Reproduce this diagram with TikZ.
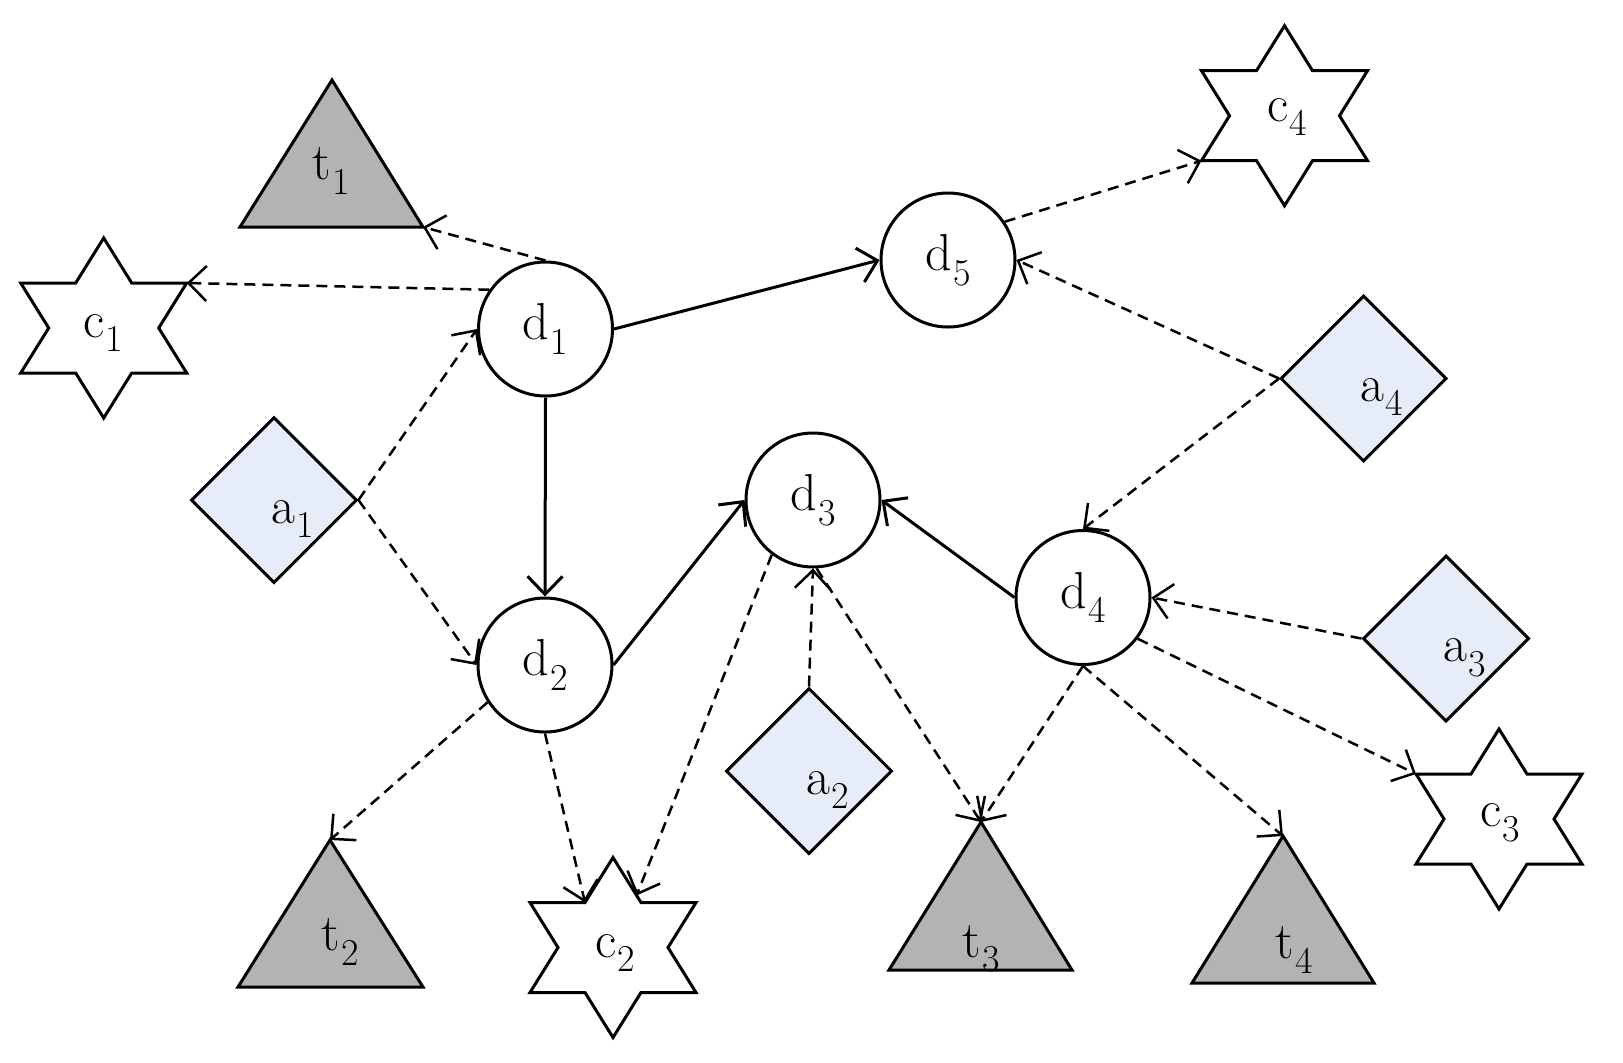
\documentclass[tikz,border=0pt]{standalone}
\usetikzlibrary{arrows.meta,shapes.geometric}
\definecolor{tgray}{RGB}{179,179,179}
\definecolor{dblue}{RGB}{230,237,248}
\newcommand\lblsub[2]{#1\kern0.02em\raisebox{-0.28em}{\fontsize{19}{22}\selectfont #2}}
\newcommand\hexastar[2]{%
  \begin{scope}[shift={(#1)}]
    \draw[shp,fill=white] (0,-90) -- (28,-45) -- (83,-45) -- (55,0) -- (83,45) -- (28,45) -- (0,90) -- (-28,45) -- (-83,45) -- (-55,0) -- (-83,-45) -- (-28,-45) -- cycle;
    \coordinate (#2-ur) at (83,-45);
    \coordinate (#2-ul) at (-83,-45);
    \coordinate (#2-ll) at (-83,45);
    \coordinate (#2-uli) at (-28,-45);
    \coordinate (#2-ure) at (23.5,-52);
  \end{scope}}
\begin{document}
\begin{tikzpicture}[x=0.5pt,y=-0.5pt,
  shp/.style={draw=black,line width=1.5pt,line join=miter},
  dnode/.style={circle,draw=black,line width=1.5pt,minimum size=67pt,inner sep=0pt,font=\fontsize{26}{30}\selectfont},
  anode/.style={diamond,draw=black,line width=1.5pt,fill=dblue,minimum width=83pt,minimum height=83pt,inner sep=0pt},
  lbl/.style={font=\fontsize{26}{30}\selectfont,inner sep=0pt},
  tipstyle/.style={-{Straight Barb[length=9pt,width=17.5pt]}},
  dep/.style={tipstyle,dash pattern=on 5.5pt off 3.5pt,line width=1.25pt},
  flow/.style={tipstyle,line width=1.5pt}]
\useasboundingbox (0,0) rectangle (1623,1062);

% triangles
\draw[shp,fill=tgray] (332,80) coordinate (t1-top) -- (423,227) coordinate (t1-r) -- (240,227) coordinate (t1-l) -- cycle;
\node[lbl] (t1) at (331,171) {\lblsub{t}{1}};
\draw[shp,fill=tgray] (330,840) coordinate (t2-top) -- (423,987) coordinate (t2-r) -- (238,987) coordinate (t2-l) -- cycle;
\node[lbl] (t2) at (340,942) {\lblsub{t}{2}};
\draw[shp,fill=tgray] (981,822) coordinate (t3-top) -- (1072,970) coordinate (t3-r) -- (889,970) coordinate (t3-l) -- cycle;
\node[lbl] (t3) at (981,949) {\lblsub{t}{3}};
\draw[shp,fill=tgray] (1283,836) coordinate (t4-top) -- (1374,983) coordinate (t4-r) -- (1192,983) coordinate (t4-l) -- cycle;
\node[lbl] (t4) at (1294,950) {\lblsub{t}{4}};

% stars
\hexastar{103.7,328}{c1s}
\node[lbl] (c1) at (103.5,333) {\lblsub{c}{1}};
\hexastar{613,947.5}{c2s}
\node[lbl] (c2) at (615,953) {\lblsub{c}{2}};
\hexastar{1499,819}{c3s}
\node[lbl] (c3) at (1500,823) {\lblsub{c}{3}};
\hexastar{1284.5,115.7}{c4s}
\node[lbl] (c4) at (1287,117) {\lblsub{c}{4}};

% diamonds
\node[anode] (a1) at (274,500) {};
\node[lbl] (a1l) at (293,519) {\lblsub{a}{1}};
\node[anode] (a2) at (809,771) {};
\node[lbl] (a2l) at (828,790) {\lblsub{a}{2}};
\node[anode] (a3) at (1446,638.5) {};
\node[lbl] (a3l) at (1465,658) {\lblsub{a}{3}};
\node[anode] (a4) at (1363.5,378.5) {};
\node[lbl] (a4l) at (1382,397) {\lblsub{a}{4}};

% circles
\node[dnode] (d1) at (545.5,329) {\lblsub{d}{1}};
\node[dnode] (d2) at (545,665) {\lblsub{d}{2}};
\node[dnode] (d3) at (813,500) {\lblsub{d}{3}};
\node[dnode] (d4) at (1083,597.5) {\lblsub{d}{4}};
\node[dnode] (d5) at (948,260) {\lblsub{d}{5}};

% connectors
\draw[dep] (d1.north) -- (t1-r);
\draw[dep] (d1.145) -- (c1s-ur);
\draw[dep] (a1.east) -- (d1.west);
\draw[dep] (a1.east) -- (d2.west);
\draw[flow] (d1.south) -- (d2.north);
\draw[flow] (d1.east) -- (d5.west);
\draw[flow] (d2.east) -- (d3.west);
\draw[dep] (d2.213) -- (t2-top);
\draw[dep] (d2.south) -- (c2s-uli);
\draw[dep] (d3.233) -- (c2s-ure);
\draw[dep] (a2.north) -- (d3.south);
\draw[dep] (d3.-87) -- (t3-top);
\draw[flow] (d4.west) -- (d3.east);
\draw[dep] (a4.west) -- (d5.east);
\draw[dep] (a4.west) -- (d4.north);
\draw[dep] (d5.34) -- (c4s-ll);
\draw[dep] (a3.west) -- (d4.east);
\draw[dep] (d4.-37) -- (c3s-ul);
\draw[dep] (d4.south) -- (t4-top);
\draw[dep] (d4.south) -- (t3-top);
\end{tikzpicture}
\end{document}
